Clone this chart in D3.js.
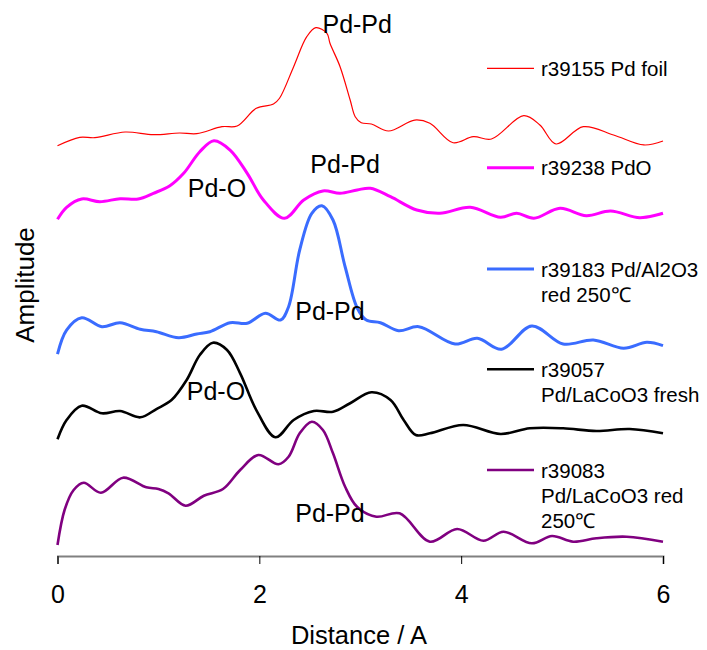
<!DOCTYPE html>
<html>
<head>
<meta charset="utf-8">
<script src="https://cdn.jsdelivr.net/npm/d3@7"></script>
<style>
  html, body { margin: 0; padding: 0; background: #fff; }
  svg { display: block; font-family: "Liberation Sans", Arial, sans-serif; }
</style>
</head>
<body>
<svg id="chart" width="707" height="650"></svg>
<script>
// ---- data (distance in Å, amplitude with vertical offsets as in the original plot) ----
const seriesNames = ["r39155 Pd foil", "r39238 PdO", "r39183 Pd/Al2O3 red 250℃", "r39057 Pd/LaCoO3 fresh", "r39083 Pd/LaCoO3 red 250℃"];

const foilX = [0, 0.22, 0.37, 0.67, 0.95, 1.21, 1.38, 1.63, 1.78, 1.97, 2.14, 2.2, 2.34, 2.47, 2.56, 2.67, 2.7, 2.8, 2.9, 2.95, 3.01, 3.11, 3.28, 3.54, 3.69, 3.92, 4.12, 4.3, 4.62, 4.78, 4.94, 5.21, 5.51, 5.81, 6.0];
const foilY = [4.559, 4.652, 4.648, 4.711, 4.681, 4.700, 4.692, 4.770, 4.778, 4.974, 5.022, 5.086, 5.437, 5.770, 5.870, 5.808, 5.697, 5.437, 5.067, 4.881, 4.814, 4.800, 4.722, 4.844, 4.808, 4.592, 4.659, 4.633, 4.892, 4.789, 4.578, 4.770, 4.678, 4.567, 4.611];

const pdoX = [0, 0.09, 0.24, 0.42, 0.62, 0.80, 0.95, 1.11, 1.25, 1.41, 1.55, 1.71, 1.88, 2.04, 2.25, 2.44, 2.63, 2.80, 2.97, 3.10, 3.30, 3.56, 3.79, 4.09, 4.39, 4.55, 4.72, 4.98, 5.24, 5.48, 5.77, 6.0];
const pdoY = [3.741, 3.874, 3.967, 3.937, 3.970, 3.967, 4.030, 4.111, 4.252, 4.492, 4.614, 4.511, 4.252, 3.956, 3.752, 3.956, 4.056, 4.030, 4.067, 4.086, 3.992, 3.844, 3.808, 3.874, 3.763, 3.808, 3.752, 3.863, 3.781, 3.833, 3.759, 3.808];

const alX = [0, 0.09, 0.24, 0.44, 0.62, 0.82, 0.98, 1.20, 1.38, 1.51, 1.71, 1.88, 2.06, 2.21, 2.29, 2.40, 2.52, 2.62, 2.73, 2.85, 2.97, 3.06, 3.20, 3.38, 3.58, 3.94, 4.16, 4.40, 4.70, 5.01, 5.31, 5.61, 5.84, 6.0];
const alY = [2.244, 2.511, 2.648, 2.548, 2.592, 2.519, 2.492, 2.426, 2.467, 2.492, 2.592, 2.586, 2.697, 2.622, 2.770, 3.400, 3.808, 3.892, 3.733, 3.214, 2.756, 2.622, 2.592, 2.503, 2.548, 2.356, 2.419, 2.297, 2.556, 2.356, 2.400, 2.308, 2.374, 2.337];

const freshX = [0, 0.09, 0.24, 0.44, 0.62, 0.82, 0.98, 1.13, 1.28, 1.41, 1.54, 1.68, 1.81, 1.97, 2.16, 2.34, 2.54, 2.73, 2.90, 3.11, 3.30, 3.43, 3.55, 3.69, 4.02, 4.39, 4.68, 5.01, 5.34, 5.67, 6.0];
const freshY = [1.297, 1.511, 1.670, 1.586, 1.611, 1.541, 1.633, 1.733, 1.956, 2.233, 2.370, 2.289, 2.030, 1.622, 1.319, 1.511, 1.611, 1.603, 1.697, 1.819, 1.733, 1.511, 1.344, 1.363, 1.456, 1.356, 1.419, 1.419, 1.389, 1.411, 1.363];

const redX = [0, 0.07, 0.16, 0.26, 0.43, 0.65, 0.88, 1.00, 1.10, 1.27, 1.45, 1.64, 1.81, 1.99, 2.19, 2.29, 2.40, 2.52, 2.63, 2.73, 2.85, 2.97, 3.16, 3.39, 3.69, 3.96, 4.22, 4.42, 4.70, 4.90, 5.11, 5.34, 5.64, 6.0];
const redY = [0.122, 0.511, 0.733, 0.814, 0.703, 0.870, 0.763, 0.744, 0.697, 0.559, 0.670, 0.744, 0.956, 1.122, 1.019, 1.103, 1.363, 1.492, 1.400, 1.141, 0.770, 0.544, 0.437, 0.474, 0.159, 0.300, 0.170, 0.270, 0.141, 0.222, 0.159, 0.197, 0.214, 0.159];

const xTicks = [0, 2, 4, 6];

const annotText = ["Pd-Pd", "Pd-O", "Pd-Pd", "Pd-Pd", "Pd-O", "Pd-Pd"];
const annotX = [2.97, 1.58, 2.85, 2.70, 1.57, 2.70];
const annotY = [5.81, 3.99, 4.26, 2.62, 1.73, 0.38];

// ---- styles ----
const colors = ["#ff0000", "#ff00ff", "#3a6cff", "#000000", "#800080"];
const widths = [1.2, 3, 3, 2.6, 2.6];
const legendLines = [["r39155 Pd foil"], ["r39238 PdO"], ["r39183 Pd/Al2O3", "red 250℃"], ["r39057", "Pd/LaCoO3 fresh"], ["r39083", "Pd/LaCoO3 red", "250℃"]];
const legendY = [68.3, 167.7, 269, 369.3, 470];

const svg = d3.select("#chart");
const x = d3.scaleLinear().domain([0, 6]).range([57.5, 663]);
const y = d3.scaleLinear().domain([0, 6]).range([556, 16]);

const xs = [foilX, pdoX, alX, freshX, redX];
const ys = [foilY, pdoY, alY, freshY, redY];

const line = d3.line()
  .x(d => x(d[0])).y(d => y(d[1]))
  .curve(d3.curveCatmullRom.alpha(0.5));

// x axis
const axis = d3.axisBottom(x).tickValues(xTicks).tickSize(8).tickFormat(d3.format("d"));
const gx = svg.append("g").attr("transform", `translate(0,${y(0)})`).call(axis);
gx.select(".domain").attr("stroke", "#808080").attr("stroke-width", 2);
gx.selectAll(".tick line").attr("stroke", "#000").attr("stroke-width", 1);
gx.selectAll(".tick text").attr("font-size", 25).attr("fill", "#000")
  .attr("y", 47).attr("dy", 0).attr("font-family", "Liberation Sans, Arial, sans-serif");

// axis titles
svg.append("text").attr("x", 359).attr("y", 644).attr("text-anchor", "middle")
  .attr("font-size", 25.5).text("Distance / A");
svg.append("text").attr("transform", "translate(34,285) rotate(-90)")
  .attr("text-anchor", "middle").attr("font-size", 26).text("Amplitude");

// series
for (let i = 0; i < 5; i++) {
  const pts = xs[i].map((v, j) => [v, ys[i][j]]);
  svg.append("path").datum(pts)
    .attr("fill", "none").attr("stroke", colors[i]).attr("stroke-width", widths[i])
    .attr("stroke-linejoin", "round").attr("d", line);
}

// annotations
svg.append("g").selectAll("text").data(annotText).join("text")
  .attr("x", (d, i) => x(annotX[i])).attr("y", (d, i) => y(annotY[i]))
  .attr("text-anchor", "middle").attr("font-size", 25).attr("fill", "#000")
  .text(d => d);

// legend
const lg = svg.append("g");
legendLines.forEach((lines, i) => {
  lg.append("line").attr("x1", 487).attr("x2", 534)
    .attr("y1", legendY[i]).attr("y2", legendY[i])
    .attr("stroke", colors[i]).attr("stroke-width", widths[i]);
  const t = lg.append("text").attr("x", 541).attr("y", legendY[i] + 7.5)
    .attr("font-size", 20.5).attr("fill", "#000");
  lines.forEach((s, k) => {
    t.append("tspan").attr("x", 541).attr("dy", k === 0 ? 0 : 25).text(s);
  });
});
</script>
</body>
</html>
